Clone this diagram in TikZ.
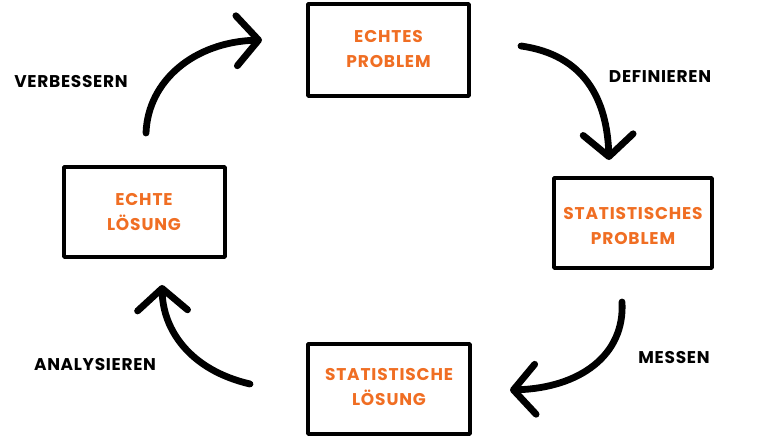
\documentclass[tikz,border=0pt]{standalone}
\usepackage{fontspec}
\setmainfont{Poppins}
\usetikzlibrary{arrows.meta}
\definecolor{orng}{RGB}{240,110,35}
\begin{document}
\begin{tikzpicture}[x=1pt,y=-1pt,
  box/.style={draw=black, line width=3.8pt, line join=round, fill=white},
  boxtext/.style={text=orng, font=\fontsize{17}{25}\selectfont\bfseries\addfontfeature{LetterSpace=5}, align=center},
  lbl/.style={text=black, font=\fontsize{17}{18}\selectfont\bfseries\addfontfeature{LetterSpace=4}},
  arr/.style={line width=6.8pt, line cap=round, -{Straight Barb[length=22pt,width=50pt,round]}}]
\useasboundingbox (0,0) rectangle (757,438);
% boxes
\draw[box] (308,4) rectangle (469,96);
\node[boxtext] (ep) at (388.5,49) {ECHTES\\PROBLEM};
\draw[box] (554,178) rectangle (712,268);
\node[boxtext] (sp) at (633,226) {STATISTISCHES\\PROBLEM};
\draw[box] (308,344) rectangle (470,434);
\node[boxtext] (sl) at (389,387) {STATISTISCHE\\LÖSUNG};
\draw[box] (64,167) rectangle (225,257);
\node[boxtext] (el) at (144,212) {ECHTE\\LÖSUNG};
% arrow end points
\coordinate (d1) at (521,46);
\coordinate (d2) at (609,160);
\coordinate (m1) at (622,302);
\coordinate (m2) at (510,390);
\coordinate (a1) at (250,384);
\coordinate (a2) at (162,285);
\coordinate (v1) at (146,133);
\coordinate (v2) at (262,40);
\draw[arr] (d1) .. controls (585,55) and (607,100) .. (d2);
\draw[arr] (m1) .. controls (625,355) and (580,388) .. (m2);
\draw[arr] (a1) .. controls (190,370) and (163,330) .. (a2);
\draw[arr] (v1) .. controls (148,80) and (195,42) .. (v2);
% labels
\node[lbl] (ld) at (660,77) {DEFINIEREN};
\node[lbl] (lm) at (674,358) {MESSEN};
\node[lbl] (la) at (95,365) {ANALYSIEREN};
\node[lbl] (lv) at (71,82) {VERBESSERN};
\end{tikzpicture}
\end{document}
